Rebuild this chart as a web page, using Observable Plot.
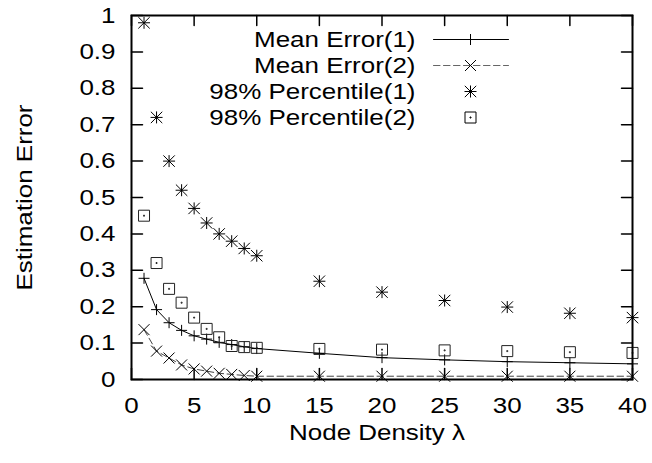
<!DOCTYPE html>
<html>
<head>
<meta charset="utf-8">
<script src="https://cdn.jsdelivr.net/npm/d3@7"></script>
<script src="https://cdn.jsdelivr.net/npm/@observablehq/plot@0.6"></script>
<style>
  html, body { margin: 0; padding: 0; background: #fff; }
  #chart svg { display: block; }
</style>
</head>
<body>
<div id="chart"></div>
<script>
// ---- data ----
const density = [1, 2, 3, 4, 5, 6, 7, 8, 9, 10, 15, 20, 25, 30, 35, 40];
const meanError1 = [0.278, 0.192, 0.156, 0.135, 0.12, 0.111, 0.102, 0.096, 0.09, 0.085, 0.072, 0.06, 0.054, 0.049, 0.046, 0.043];
const meanError2 = [0.137, 0.078, 0.059, 0.04, 0.029, 0.023, 0.017, 0.014, 0.011, 0.009, 0.009, 0.009, 0.009, 0.009, 0.009, 0.009];
const percentile1 = [0.98, 0.72, 0.60, 0.52, 0.47, 0.43, 0.40, 0.38, 0.36, 0.34, 0.27, 0.24, 0.217, 0.199, 0.182, 0.17];
const percentile2 = [0.45, 0.32, 0.249, 0.211, 0.17, 0.139, 0.116, 0.092, 0.089, 0.087, 0.084, 0.082, 0.08, 0.078, 0.075, 0.073];
const seriesLabels = ["Mean Error(1)", "Mean Error(2)", "98% Percentile(1)", "98% Percentile(2)"];
const xTicks = [0, 5, 10, 15, 20, 25, 30, 35, 40];
const yTicks = [0, 0.1, 0.2, 0.3, 0.4, 0.5, 0.6, 0.7, 0.8, 0.9, 1];
const xTickLabels = ["0", "5", "10", "15", "20", "25", "30", "35", "40"];
const yTickLabels = ["0", "0.1", "0.2", "0.3", "0.4", "0.5", "0.6", "0.7", "0.8", "0.9", "1"];
const xLabel = "Node Density λ";
const yLabel = "Estimation Error";

const rows = density.map((x, i) => ({x, m1: meanError1[i], m2: meanError2[i], p1: percentile1[i], p2: percentile2[i]}));

// ---- symbols ----
const sym = (fn) => ({draw(ctx, size) { fn(ctx, Math.sqrt(size / Math.PI)); }});
const plusFn = (c, r) => { c.moveTo(-r, 0); c.lineTo(r, 0); c.moveTo(0, -r); c.lineTo(0, r); };
const timesFn = (c, r) => { c.moveTo(-r, -r); c.lineTo(r, r); c.moveTo(-r, r); c.lineTo(r, -r); };
const plus = sym(plusFn);
const times = sym(timesFn);
const star = sym((c, r) => { plusFn(c, r); timesFn(c, r * 0.95); });
const square = sym((c, r) => { c.rect(-r, -r, 2 * r, 2 * r); c.rect(-0.5, -0.5, 1, 1); });
const tickShape = {draw(ctx, l) { ctx.moveTo(0, 0); ctx.lineTo(0, -l); }};

const W = 652, H = 463;
const M = {top: 15, right: 20, bottom: 84, left: 131};
const FS = 22;
const font = {fontSize: FS, fill: "black"};
const tickLen = 11;

const legendMarks = [];
const legendSymbols = [plus, times, star, square];
const rowY0 = 24, rowStep = 26;
seriesLabels.forEach((label, i) => {
  const dy = rowY0 + rowStep * i;
  legendMarks.push(Plot.text([label], {text: d => d, frameAnchor: "top-right", dx: -217, dy, textAnchor: "end", lineAnchor: "middle", ...font}));
  if (i === 0) legendMarks.push(Plot.vector([0], {frameAnchor: "top-right", dx: -199, dy, rotate: 90, length: 75, anchor: "start", shape: tickShape, stroke: "black", strokeWidth: 1}));
  if (i === 1) legendMarks.push(Plot.vector([0], {frameAnchor: "top-right", dx: -199, dy, rotate: 90, length: 75, anchor: "start", shape: tickShape, stroke: "#666", strokeWidth: 1, strokeDasharray: "6.5,3.5"}));
  legendMarks.push(Plot.dot([0], {frameAnchor: "top-right", dx: -162, dy, symbol: legendSymbols[i], r: i === 2 ? 6 : 5.5, stroke: "black", fill: "none", strokeWidth: 1}));
});

const chart = Plot.plot({
  width: W,
  height: H,
  marginTop: M.top,
  marginRight: M.right,
  marginBottom: M.bottom,
  marginLeft: M.left,
  style: {fontFamily: "'Liberation Sans', Arial, sans-serif", background: "white"},
  x: {domain: [0, 40], axis: null},
  y: {domain: [0, 1], axis: null},
  marks: [
    Plot.line(rows, {x: "x", y: "m1", stroke: "black", strokeWidth: 1}),
    Plot.line(rows, {x: "x", y: "m2", stroke: "#444", strokeWidth: 1, strokeDasharray: "6.5,3.5"}),
    Plot.dot(rows, {x: "x", y: "m1", symbol: plus, r: 5.5, stroke: "black", fill: "none", strokeWidth: 1}),
    Plot.dot(rows, {x: "x", y: "m2", symbol: times, r: 5.5, stroke: "black", fill: "none", strokeWidth: 1}),
    Plot.dot(rows, {x: "x", y: "p1", symbol: star, r: 6, stroke: "black", fill: "none", strokeWidth: 1}),
    Plot.dot(rows, {x: "x", y: "p2", symbol: square, r: 5.5, stroke: "#222", fill: "none", strokeWidth: 1}),
    // ticks (inward, mirrored)
    Plot.vector(xTicks, {x: d => d, frameAnchor: "bottom", rotate: 0, length: tickLen, anchor: "start", shape: tickShape, stroke: "black", strokeWidth: 1.5}),
    Plot.vector(xTicks, {x: d => d, frameAnchor: "top", rotate: 180, length: tickLen - 1, anchor: "start", shape: tickShape, stroke: "black", strokeWidth: 1.5}),
    Plot.vector(yTicks, {y: d => d, frameAnchor: "left", rotate: 90, length: tickLen, anchor: "start", shape: tickShape, stroke: "black", strokeWidth: 1.5}),
    Plot.vector(yTicks, {y: d => d, frameAnchor: "right", rotate: -90, length: tickLen, anchor: "start", shape: tickShape, stroke: "black", strokeWidth: 1.5}),
    Plot.frame({stroke: "black", strokeWidth: 2}),
    // tick labels
    Plot.text(xTicks, {x: d => d, text: (d, i) => xTickLabels[i], frameAnchor: "bottom", dy: 26, textAnchor: "middle", lineAnchor: "middle", ...font}),
    Plot.text(yTicks, {y: d => d, text: (d, i) => yTickLabels[i], frameAnchor: "left", dx: -16, textAnchor: "end", lineAnchor: "middle", ...font}),
    // axis titles
    Plot.text([xLabel], {text: d => d, frameAnchor: "bottom", dx: -5, dy: 53, textAnchor: "middle", lineAnchor: "middle", ...font}),
    Plot.text([yLabel], {text: d => d, frameAnchor: "left", dx: -107, rotate: -90, textAnchor: "middle", lineAnchor: "middle", ...font}),
    ...legendMarks
  ]
});

// widen glyphs horizontally to match the reference's wide lettering
chart.querySelectorAll("text").forEach(t => {
  let tr = t.getAttribute("transform") || "";
  const x = t.getAttribute("x");
  if (x !== null) { t.removeAttribute("x"); tr += ` translate(${x},0)`; }
  t.setAttribute("transform", tr + " scale(1.18,1)");
});

document.getElementById("chart").appendChild(chart);
</script>
</body>
</html>
